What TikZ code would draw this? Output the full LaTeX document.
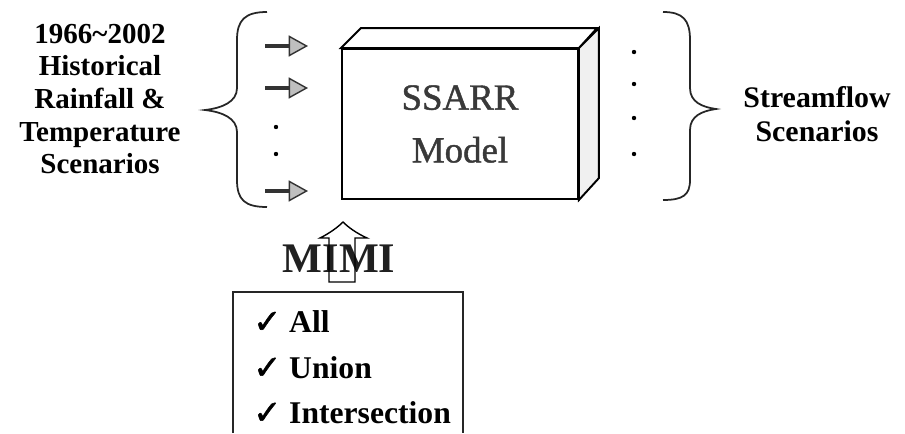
\documentclass[tikz,border=0pt]{standalone}
\usepackage{fontspec}
\setmainfont{Liberation Serif}
\newfontfamily\chk[FakeBold=1.6]{DejaVu Sans}
\newfontfamily\heavy[FakeBold=1.2]{Liberation Serif}
\usetikzlibrary{arrows.meta}
\tikzset{
  side/.style={align=center,font=\bfseries\fontsize{16.5}{18.6}\selectfont},
  item/.style={anchor=west,inner sep=0pt,font=\bfseries\fontsize{18}{20}\selectfont},
  inarrow/.style={line width=1.8pt,draw=black!80,-{Triangle[length=11pt,width=12pt,fill=gray!50,line width=0.8pt]}},
  brace/.style={line width=1pt,draw=black!85}
}
\newcommand{\tick}{{\chk\fontsize{19}{19}\selectfont ✓}}
\begin{document}
\begin{tikzpicture}[x=0.02cm,y=-0.02cm]
\useasboundingbox (0,0) rectangle (905,433);
% left side
\node[side] (In) at (100,99) {1966\textasciitilde2002\\Historical\\Rainfall \&\\Temperature\\Scenarios};
\draw[brace] (267,12) .. controls (245,12) and (237,20) .. (237,40) -- (237,88)
  .. controls (237,102) and (222,108) .. (205,110)
  .. controls (222,112) and (237,118) .. (237,132) -- (237,180)
  .. controls (237,200) and (245,207) .. (267,207);
% model box
\node[draw,line width=1.1pt,fill=white,minimum width=4.72cm,minimum height=3cm,align=center,
  text=gray!45!black,font=\heavy\fontsize{21}{30}\selectfont] (M) at (460,124) {SSARR\\Model};
\draw[line width=1.1pt] (M.north west) -- ++(20,-20) -- ++(236,0) -- (M.north east) -- cycle;
\draw[line width=1.1pt,fill=gray!12] (M.north east) -- ++(20,-20) -- ++(0,150) -- (M.south east) -- cycle;
% inputs
\coordinate (a1) at (265,46);
\coordinate (a2) at (265,88);
\coordinate (a3) at (265,191);
\foreach \a in {a1,a2,a3}
  \draw[inarrow] (\a) -- ++(43,0);
\fill (276,127) circle (2.2);
\fill (276,154) circle (2.2);
% outputs
\foreach \y in {52,84,118,154}
  \fill (634,\y) circle (2.2);
\draw[brace] (663,12) .. controls (683,12) and (690,20) .. (690,40) -- (690,88)
  .. controls (690,102) and (702,107) .. (716,109)
  .. controls (702,111) and (690,116) .. (690,130) -- (690,180)
  .. controls (690,195) and (683,200) .. (663,200);
\node[side,font=\bfseries\fontsize{17}{19.5}\selectfont] (Out) at (817,114) {Streamflow\\Scenarios};
% MIMI
\node[font=\bfseries\fontsize{24}{24}\selectfont,text=gray!25!black] (MI) at (339,259) {MIMI};
\draw[line width=0.8pt] (329,282) -- (329,238) -- (320,238)
  .. controls (330,233) and (338,227) .. (343,222)
  .. controls (348,227) and (356,233) .. (367,238) -- (355,238) -- (355,282) -- cycle;
% options
\draw[line width=1.1pt,draw=gray!30!black] (233,433) -- (233,292) -- (463,292) -- (463,433);
\node[item] (All) at (253,322) {\tick\ All};
\node[item] (Un) at (253,368) {\tick\ Union};
\node[item] (Int) at (253,413) {\tick\ Intersection};
\end{tikzpicture}
\end{document}
